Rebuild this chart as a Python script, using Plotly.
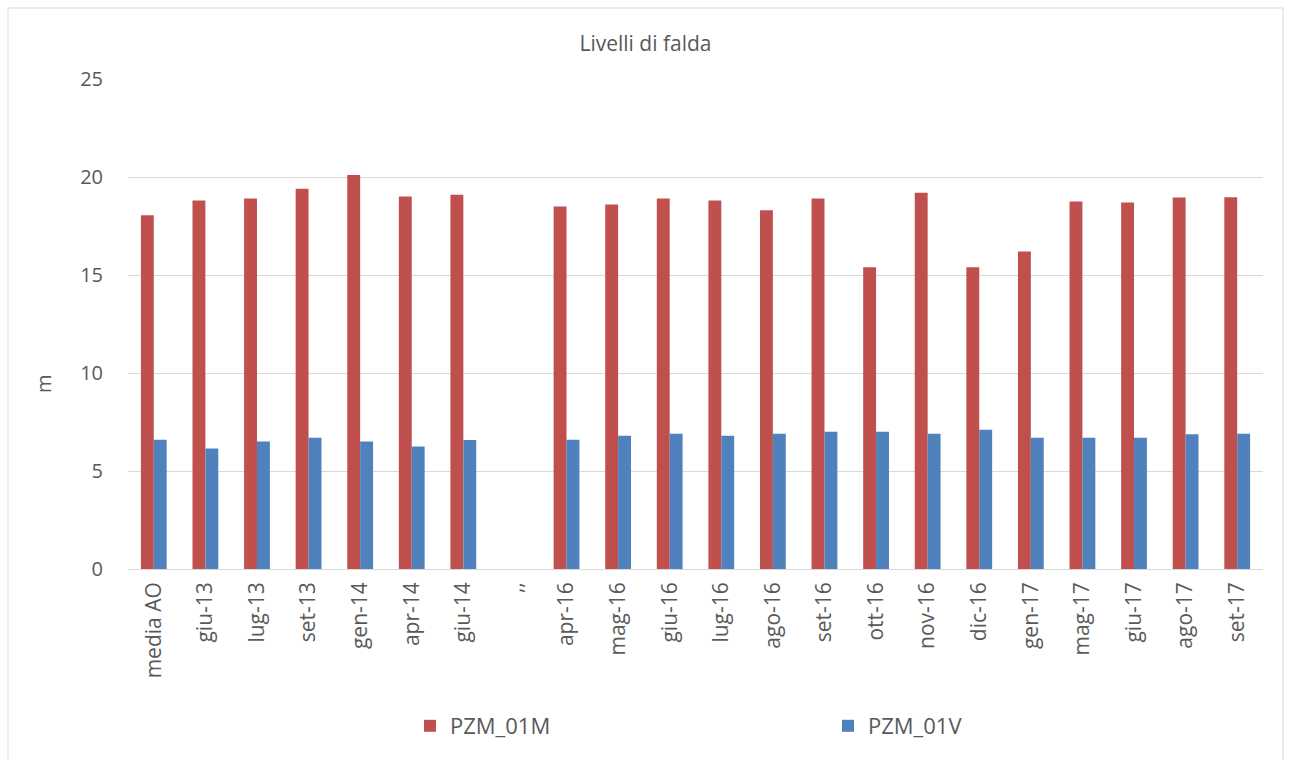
import plotly.graph_objects as go

# Sampling dates (one empty separator slot between 2014 and 2016)
categories = ["media AO", "giu-13", "lug-13", "set-13", "gen-14", "apr-14", "giu-14", ",,",
              "apr-16", "mag-16", "giu-16", "lug-16", "ago-16", "set-16", "ott-16",
              "nov-16", "dic-16", "gen-17", "mag-17", "giu-17", "ago-17", "set-17"]

pzm_01m = [18.05, 18.8, 18.9, 19.4, 20.1, 19.0, 19.1, None,
           18.5, 18.6, 18.9, 18.8, 18.3, 18.9, 15.4,
           19.2, 15.4, 16.2, 18.75, 18.7, 18.95, 18.97]
pzm_01v = [6.6, 6.15, 6.5, 6.7, 6.5, 6.25, 6.58, None,
           6.6, 6.8, 6.9, 6.8, 6.9, 7.0, 7.0,
           6.9, 7.1, 6.7, 6.7, 6.7, 6.87, 6.9]

y_ticks = [0, 5, 10, 15, 20, 25]

FONT = "Open Sans, Liberation Sans, sans-serif"
TXT = "#595959"
GRID = "#d9d9d9"

W, H = 1291, 760
L, R, T, B = 128, 28, 79, 191
pw, ph = W - L - R, H - T - B

fig = go.Figure()
fig.add_trace(go.Bar(x=categories, y=pzm_01m, name="PZM_01M",
                     marker=dict(color="#C0504D", line=dict(width=0))))
fig.add_trace(go.Bar(x=categories, y=pzm_01v, name="PZM_01V",
                     marker=dict(color="#4F81BD", line=dict(width=0))))


def px_x(p):
    return (p - L) / pw


def px_y(p):
    return (H - B - p) / ph


fig.update_layout(
    width=W, height=H,
    margin=dict(l=L, r=R, t=T, b=B, autoexpand=False),
    paper_bgcolor="white", plot_bgcolor="white",
    barmode="group", bargap=0.5, bargroupgap=0,
    font=dict(family=FONT, color=TXT, size=20),
    title=dict(text="Livelli di falda", x=0.5, xanchor="center",
               y=1 - 44 / H, yanchor="middle",
               font=dict(size=21, color=TXT, family=FONT)),
    xaxis=dict(type="category", tickangle=-90, showgrid=False, showline=False,
               ticks="", tickfont=dict(size=21, color=TXT), ticklabelstandoff=8),
    yaxis=dict(range=[0, 25], tickvals=y_ticks, showgrid=True, gridcolor=GRID,
               gridwidth=1.3, zeroline=True, zerolinecolor=GRID, zerolinewidth=1.3,
               showline=False, ticks="", tickfont=dict(size=20, color=TXT),
               ticklabelstandoff=24),
    legend=dict(orientation="h", x=px_x(410), xanchor="left",
                y=px_y(726), yanchor="middle", bgcolor="rgba(0,0,0,0)",
                entrywidth=373, entrywidthmode="pixels", itemwidth=30,
                font=dict(size=22, color=TXT), traceorder="normal"),
    annotations=[dict(text="m", xref="paper", yref="paper",
                      x=px_x(43), y=px_y(384), xanchor="center", yanchor="middle",
                      textangle=-90, showarrow=False,
                      font=dict(size=20, color=TXT, family=FONT))],
    shapes=[dict(type="rect", xref="paper", yref="paper",
                 x0=px_x(8), x1=px_x(1283), y0=px_y(775), y1=px_y(8),
                 line=dict(color="#d9d9d9", width=1), fillcolor="rgba(0,0,0,0)",
                 layer="below")],
)

fig.write_html("out.html")
